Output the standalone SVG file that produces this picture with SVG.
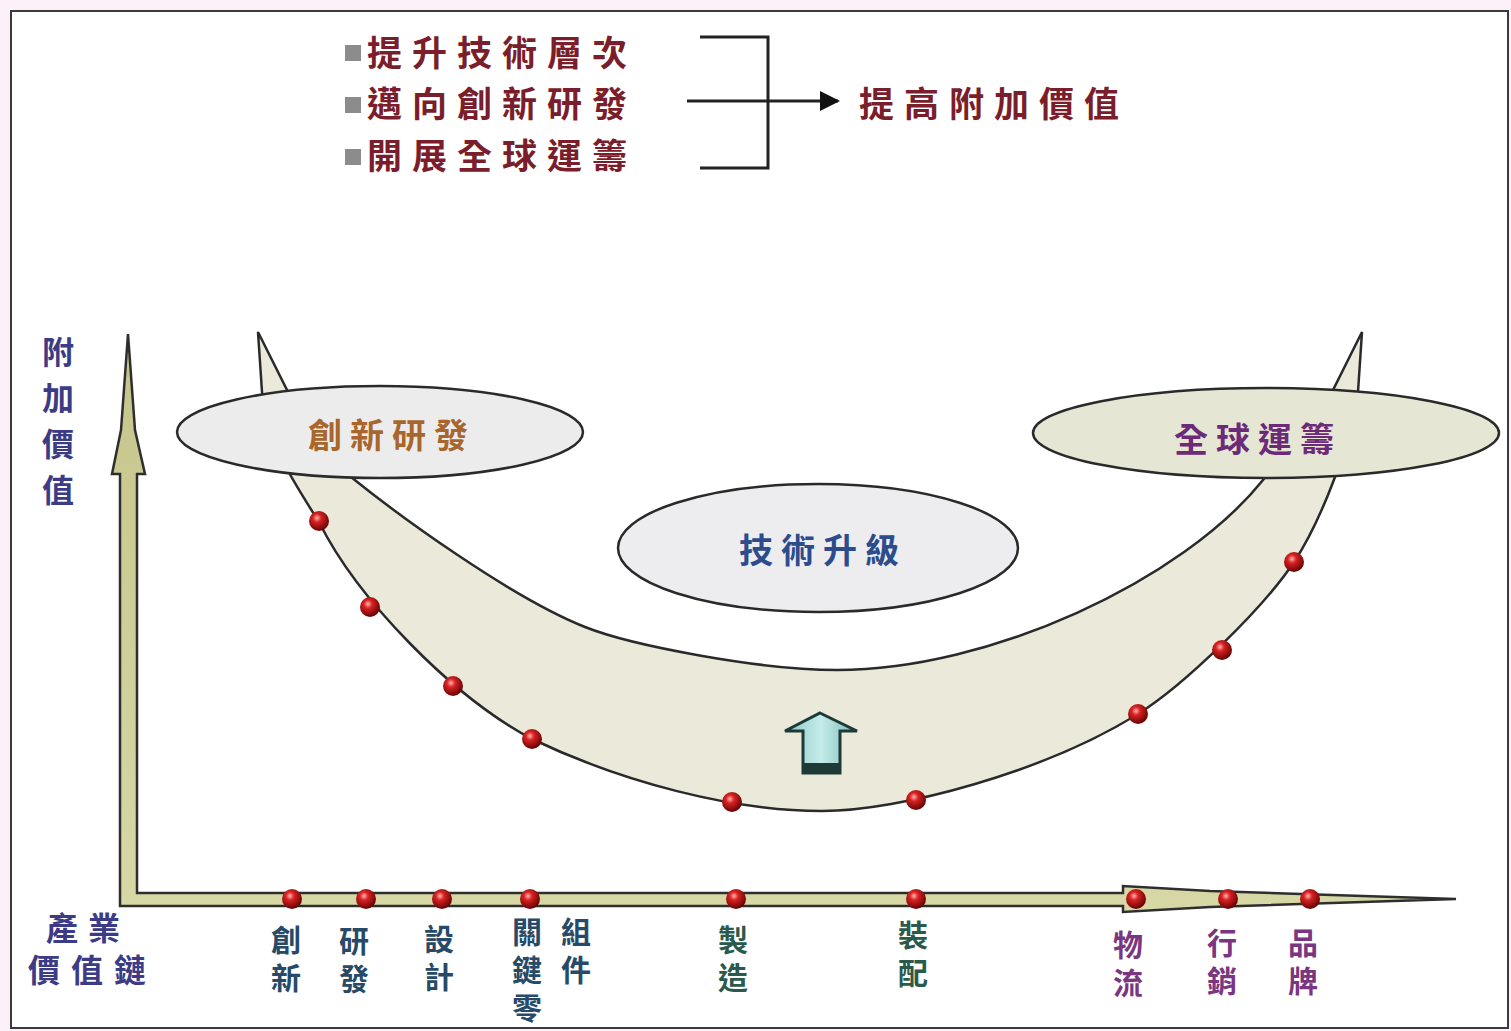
<svg xmlns="http://www.w3.org/2000/svg" width="1511" height="1031" viewBox="0 0 1511 1031">
<defs>
<style>
.cjk{font-family:"Noto Sans CJK TC","Noto Sans CJK SC",sans-serif;font-weight:700}
.top{font-size:35px;fill:#7a1e2c;letter-spacing:10px}
.vt{writing-mode:vertical-rl;text-orientation:upright}
.ax{font-size:32px;fill:#3b3b86}
.lb{font-size:30px;letter-spacing:8px}
.c1{fill:#274a68}
.c2{fill:#2a5a4c}
.c3{fill:#7a3680}
.ell{stroke:#2a2a2a;stroke-width:2.5}
.ln{stroke:#222;stroke-width:3;fill:none}
.bul{fill:#8c8c8c}
</style>
<radialGradient id="ball" cx="0.4" cy="0.35" r="0.7">
<stop offset="0" stop-color="#ffb0b0"/>
<stop offset="0.3" stop-color="#d82222"/>
<stop offset="1" stop-color="#5a0000"/>
</radialGradient>
<linearGradient id="axg" x1="0" y1="0" x2="0" y2="1">
<stop offset="0" stop-color="#c4c48a"/>
<stop offset="1" stop-color="#d8d8a6"/>
</linearGradient>
<linearGradient id="upg" x1="0" y1="0" x2="1" y2="0">
<stop offset="0" stop-color="#8cc8c4"/>
<stop offset="0.5" stop-color="#c4ecea"/>
<stop offset="1" stop-color="#7ab8b4"/>
</linearGradient>
<marker id="ah" viewBox="0 0 10 10" refX="9" refY="5" markerWidth="20" markerHeight="20" markerUnits="userSpaceOnUse" orient="auto">
<path d="M0,0 L10,5 L0,10 Z" fill="#111"/>
</marker>
<circle id="dot" r="10" fill="url(#ball)"/>
</defs>

<rect x="0" y="0" width="1511" height="1031" fill="#fcf0f9"/>
<rect x="11" y="11" width="1497" height="1017" fill="#ffffff" stroke="#3a3a3a" stroke-width="2"/>

<g id="statements">
<rect class="bul" x="345" y="45" width="16" height="16"/>
<rect class="bul" x="345" y="97" width="16" height="16"/>
<rect class="bul" x="345" y="149" width="16" height="16"/>
<text class="cjk top" x="367" y="66">提升技術層次</text>
<text class="cjk top" x="367" y="117">邁向創新研發</text>
<text class="cjk top" x="367" y="169">開展全球運籌</text>
</g>
<g id="result">
<text class="cjk top" x="859" y="117">提高附加價值</text>
</g>
<g id="connectors">
<path class="ln" d="M700,37 H768 V168 H700"/>
<path class="ln" d="M687,101 H838" marker-end="url(#ah)"/>
</g>

<g id="axes">
<path d="M120,906 L120,474 L112,474 L121,430 L128,334 L135,430 L145,474 L137,474 L137,893 L1123,893 L1123,886 L1210,891 L1456,899 L1210,907 L1123,912 L1123,906 Z" fill="url(#axg)" stroke="#2e2e2e" stroke-width="2.5" stroke-linejoin="miter"/>
</g>

<g id="smile">
<path d="M258,332 L287,390 C300,420 330,460 351,477 C397.8,514.8 510.6,597.4 585,627 C631.5,645.5 760,670 837,670 C990,670 1182,581 1263,480 C1285,452 1310,420 1333,390 L1362,332 L1358,392 C1352,440 1321.5,520.5 1294,562 C1263.75,607.65 1184.75,684.85 1138,714 C1044.5,772 900,811 822,811 C732,811 622,782 532,739 C453,697 358,600 319,522 C289,475 265,437 262,392 Z" fill="#eae9da" stroke="#2a2a2a" stroke-width="2.5" stroke-linejoin="miter"/>
</g>

<g id="node-rd">
<ellipse class="ell" cx="380" cy="432" rx="203" ry="46" fill="#ececec"/>
<text class="cjk" x="392" y="448" text-anchor="middle" font-size="34" letter-spacing="8" fill="#a8662c">創新研發</text>
</g>
<g id="node-global">
<ellipse class="ell" cx="1266" cy="433" rx="233" ry="45" fill="#e6e6d4"/>
<text class="cjk" x="1258" y="452" text-anchor="middle" font-size="34" letter-spacing="8" fill="#6c2a78">全球運籌</text>
</g>
<g id="node-tech">
<ellipse class="ell" cx="818" cy="548" rx="200" ry="64" fill="#ededf0"/>
<text class="cjk" x="823" y="563" text-anchor="middle" font-size="34" letter-spacing="8" fill="#2c4c8c">技術升級</text>
</g>

<g id="up-arrow">
<path d="M820,713 L857,731 L840,731 L840,773 L803,773 L803,731 L785,731 Z" fill="url(#upg)" stroke="#1c3a38" stroke-width="3" stroke-linejoin="miter"/>
<rect x="803" y="763" width="37" height="10" fill="#1e3a36"/>
</g>

<g id="curve-dots">
<use href="#dot" x="319" y="521"/>
<use href="#dot" x="370" y="607"/>
<use href="#dot" x="453" y="686"/>
<use href="#dot" x="532" y="739"/>
<use href="#dot" x="732" y="802"/>
<use href="#dot" x="916" y="800"/>
<use href="#dot" x="1138" y="714"/>
<use href="#dot" x="1222" y="650"/>
<use href="#dot" x="1294" y="562"/>
</g>
<g id="axis-dots">
<use href="#dot" x="292" y="899"/>
<use href="#dot" x="366" y="899"/>
<use href="#dot" x="442" y="899"/>
<use href="#dot" x="530" y="899"/>
<use href="#dot" x="736" y="899"/>
<use href="#dot" x="916" y="899"/>
<use href="#dot" x="1136" y="899"/>
<use href="#dot" x="1228" y="899"/>
<use href="#dot" x="1310" y="899"/>
</g>

<g id="y-label">
<text class="cjk ax vt" x="58" y="336" letter-spacing="14">附加價值</text>
</g>
<g id="x-label">
<text class="cjk ax" x="46" y="940" letter-spacing="10">產業</text>
<text class="cjk ax" x="28" y="982" letter-spacing="11">價值鏈</text>
</g>

<g id="stage-labels">
<text class="cjk lb vt c1" x="286" y="925">創新</text>
<text class="cjk lb vt c1" x="354" y="926">研發</text>
<text class="cjk lb vt c1" x="439" y="924">設計</text>
<text class="cjk lb vt c1" x="527" y="917">關鍵零</text>
<text class="cjk lb vt c1" x="576" y="917">組件</text>
<text class="cjk lb vt c2" x="733" y="925">製造</text>
<text class="cjk lb vt c2" x="913" y="920">裝配</text>
<text class="cjk lb vt c3" x="1128" y="930">物流</text>
<text class="cjk lb vt c3" x="1222" y="928">行銷</text>
<text class="cjk lb vt c3" x="1303" y="928">品牌</text>
</g>
</svg>
